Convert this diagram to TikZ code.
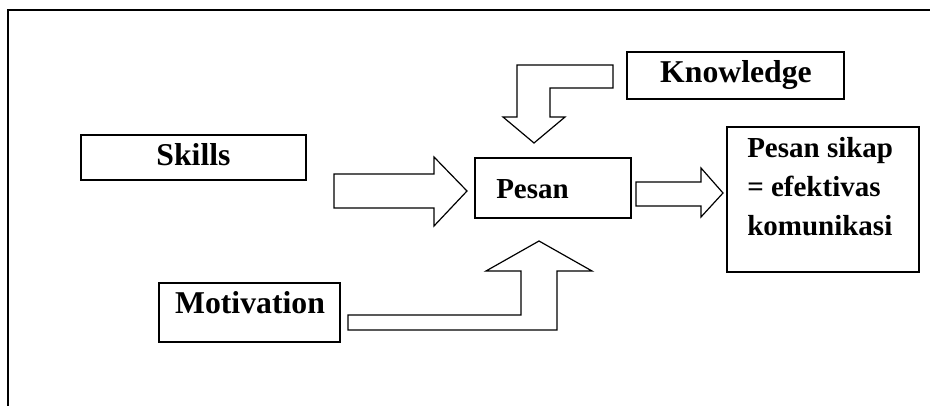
\documentclass[tikz,border=0pt]{standalone}
\usepackage{fontspec}
\setmainfont{Liberation Serif}
\begin{document}
\begin{tikzpicture}[x=0.75pt,y=-0.75pt,
  box/.style={draw,line width=1.2pt,inner sep=0pt,outer sep=0pt},
  barrow/.style={draw,line width=0.9pt,line join=miter},
  lbl/.style={font=\bfseries\fontsize{23.8}{28}\selectfont,inner sep=0pt},
  lbls/.style={font=\bfseries\fontsize{21.75}{26}\selectfont,inner sep=0pt}]
\useasboundingbox (0,0) rectangle (930,406);
% outer frame
\draw[line width=1.5pt] (8,406) -- (8,10) -- (930,10);
% boxes
\node[box,minimum width=168.75pt,minimum height=33.75pt] (skills) at (193.5,157.5) {};
\node[box,minimum width=162.75pt,minimum height=35.25pt] (know) at (735.5,75.5) {};
\node[box,minimum width=135.75pt,minimum height=44.25pt] (motiv) at (249.5,312.5) {};
\node[box,minimum width=117pt,minimum height=45pt] (pesan) at (553,188) {};
\node[box,minimum width=144pt,minimum height=108.75pt] (sikap) at (823,199.5) {};
% texts
\node[lbl,anchor=base] (tskills) at (193.5,165) {Skills};
\node[lbl,anchor=base] (tknow) at (736,83) {Knowledge};
\node[lbl,anchor=base] (tmotiv) at (250,313) {Motivation};
\node[lbls,anchor=base west] (tpesan) at (496,198) {Pesan};
\node[lbls,anchor=base west] (ts1) at (747,157) {Pesan sikap};
\node[lbls,anchor=base west] (ts2) at (747,196) {= efektivas};
\node[lbls,anchor=base west] (ts3) at (747,235) {komunikasi};
% block arrows
\draw[barrow] (334,174) -- (434,174) -- (434,157) -- (467,191) -- (434,226) -- (434,208) -- (334,208) -- cycle;
\draw[barrow] (636,182) -- (701,182) -- (701,168) -- (723,193) -- (701,217) -- (701,206) -- (636,206) -- cycle;
\draw[barrow] (613,65) -- (517,65) -- (517,117) -- (503,117) -- (534,143) -- (565,117) -- (550,117) -- (550,88) -- (613,88) -- cycle;
\draw[barrow] (348,315) -- (521,315) -- (521,271) -- (486,271) -- (539,241) -- (592,271) -- (557,271) -- (557,330) -- (348,330) -- cycle;
\end{tikzpicture}
\end{document}
